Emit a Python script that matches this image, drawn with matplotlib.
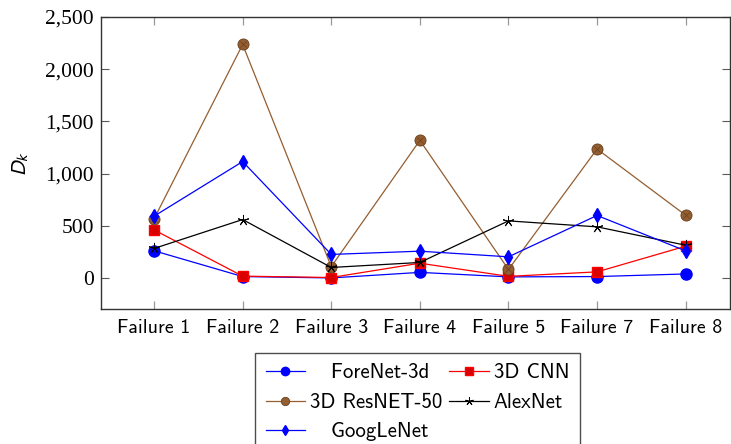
import numpy as np
import matplotlib
matplotlib.use("Agg")
import matplotlib.pyplot as plt
from matplotlib.ticker import FixedLocator, StrMethodFormatter

plt.rcParams['font.family'] = ['cmss10', 'DejaVu Sans']
plt.rcParams['mathtext.fontset'] = 'stixsans'
plt.rcParams['axes.formatter.use_mathtext'] = False

failures = ["Failure 1", "Failure 2", "Failure 3", "Failure 4",
            "Failure 5", "Failure 7", "Failure 8"]

forenet = [262, 15, 2, 55, 12, 15, 40]
cnn3d = [462, 19, 6, 143, 17, 60, 306]
resnet50 = [567, 2237, 110, 1319, 83, 1236, 602]
alexnet = [284, 561, 102, 150, 548, 491, 315]
googlenet = [593, 1116, 227, 258, 204, 600, 261]

brown = (0.58, 0.37, 0.19)
brown_dark = (0.40, 0.25, 0.12)

x = np.arange(len(failures))

fig = plt.figure(figsize=(7.31, 4.44), dpi=100)
ax = fig.add_axes([0.138, 0.303, 0.8606, 0.6587])

lw = 0.9
h_fore, = ax.plot(x, forenet, color='blue', lw=lw, marker='o', ms=8,
                  mfc='blue', mec='blue', label='   ForeNet-3d')
h_cnn, = ax.plot(x, cnn3d, color='red', lw=lw, marker='s', ms=7.5,
                 mfc=(0.85, 0, 0), mec='red', label='3D CNN')
h_res, = ax.plot(x, resnet50, color=brown, lw=lw, marker='o', ms=8,
                 mfc=brown, mec=brown_dark, mew=0.6, label='3D ResNET-50')
# cross inside the ResNET circles
ax.plot(x, resnet50, ls='none', marker='x', ms=5, mec=brown_dark, mew=0.5)
h_alex, = ax.plot(x, alexnet, color='black', lw=lw, marker=(5, 2, 0), ms=8,
                  mec='black', mew=0.7, label='AlexNet')
h_goog, = ax.plot(x, googlenet, color='blue', lw=lw, marker='d', ms=7,
                  mfc='blue', mec='blue', label='   GoogLeNet')

ax.set_xlim(-0.6, 6.5)
ax.set_ylim(-300, 2500)
ax.xaxis.set_major_locator(FixedLocator(x))
ax.set_xticklabels(failures, fontsize=14.3)
ax.yaxis.set_major_locator(FixedLocator([0, 500, 1000, 1500, 2000, 2500]))
ax.yaxis.set_major_formatter(StrMethodFormatter('{x:,.0f}'))
for lab in ax.get_yticklabels():
    lab.set_fontfamily('Liberation Serif')
    lab.set_fontsize(15.5)

ax.tick_params(axis='x', direction='in', top=True, length=5.5, width=0.9,
               color=(0.6, 0.6, 0.6), pad=7)
ax.tick_params(axis='y', direction='in', right=True, length=5.5, width=0.8,
               color=(0.35, 0.35, 0.35), pad=5)
for sp in ax.spines.values():
    sp.set_linewidth(1.0)
    sp.set_color((0.2, 0.2, 0.2))

ax.set_ylabel(r'$D_k$', fontsize=15, labelpad=10)

handles = [h_fore, h_res, h_goog, h_cnn, h_alex]
leg = fig.legend(handles=handles, labels=[h.get_label() for h in handles],
                 ncol=2, loc='upper left', bbox_to_anchor=(0.349, 0.205),
                 fontsize=15, frameon=True, fancybox=False, framealpha=1,
                 edgecolor=(0.3, 0.3, 0.3), handlelength=1.9,
                 handletextpad=0.25, columnspacing=0.3, labelspacing=0.5,
                 borderpad=0.5, borderaxespad=0, markerscale=0.75)
leg.get_frame().set_linewidth(1.0)

fig.savefig("out.png", dpi=100)
